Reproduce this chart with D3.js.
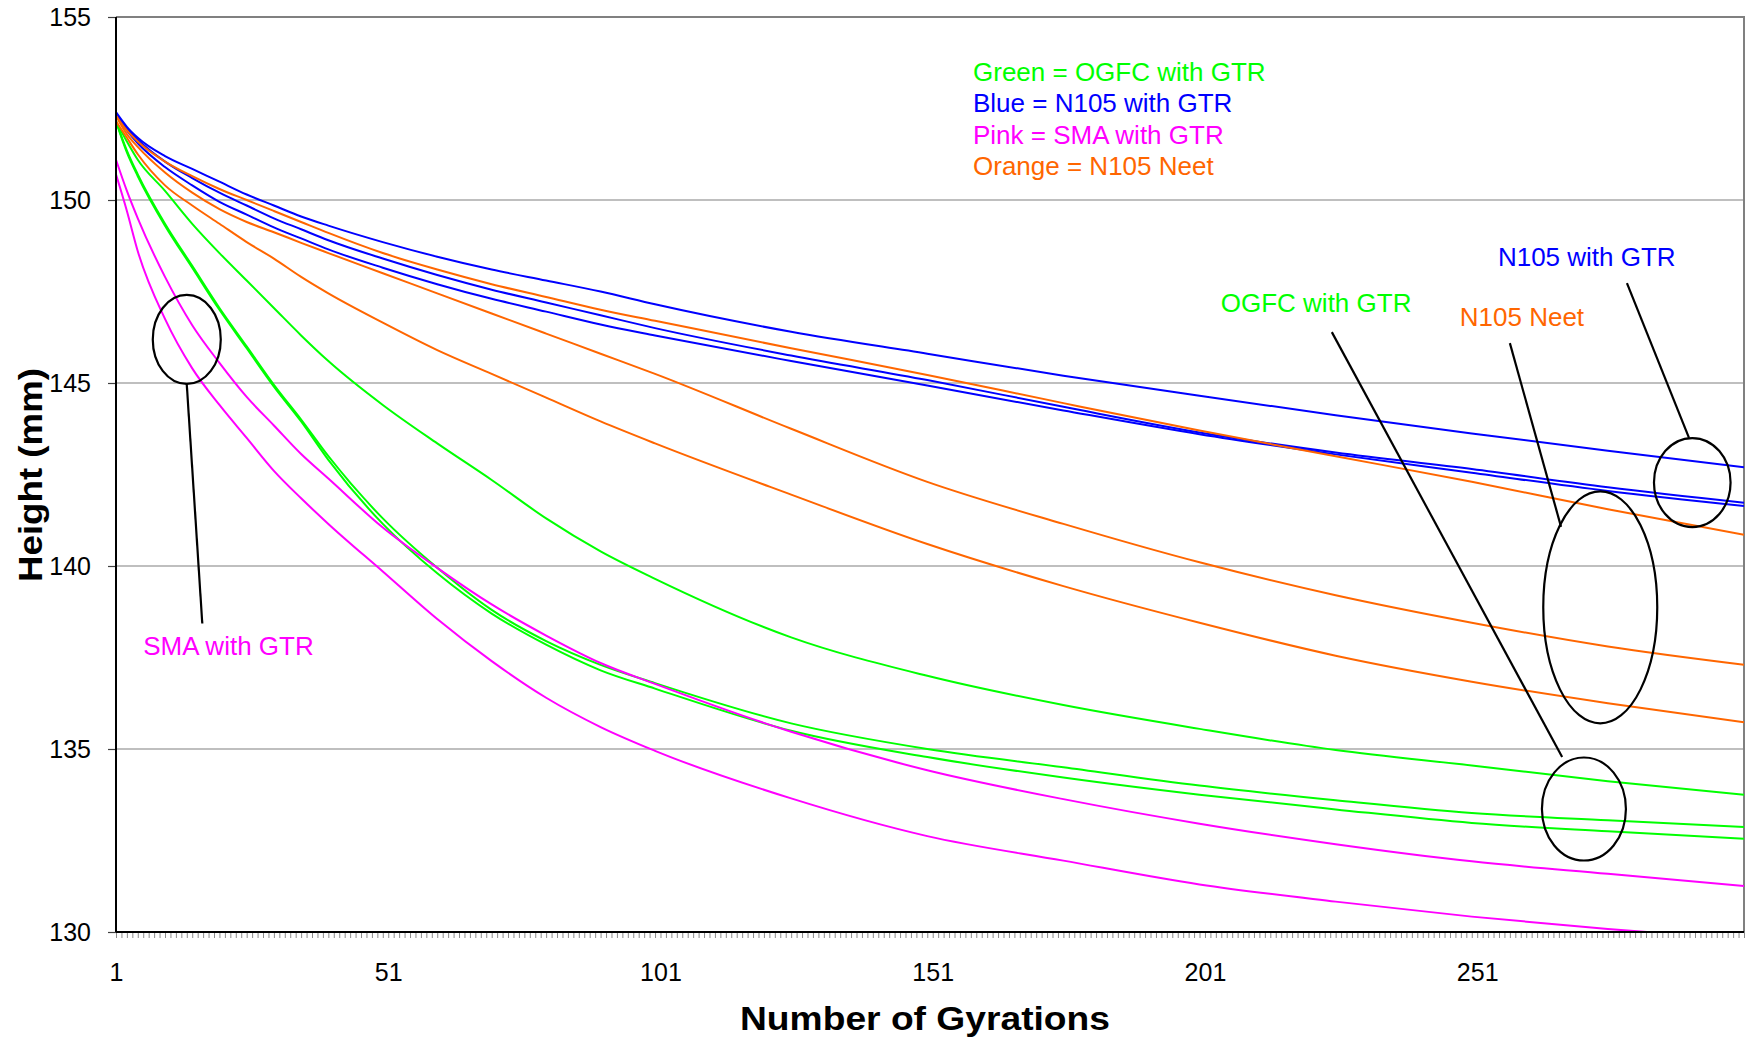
<!DOCTYPE html>
<html>
<head>
<meta charset="utf-8">
<script src="https://cdn.jsdelivr.net/npm/d3@7"></script>
<style>
  body { margin: 0; background: #fff; }
  svg { display: block; font-family: "Liberation Sans", Arial, sans-serif; }
</style>
</head>
<body>
<div class="chart"></div>
<script>
var gyrations = [1, 3, 5, 10, 15, 20, 25, 30, 35, 40, 50, 60, 70, 80, 90, 100, 125, 150, 175, 200, 225, 250, 275, 300];

// N105 with GTR (blue)
var n105GtrA = [152.4, 152.0, 151.7, 151.2, 150.85, 150.5, 150.15, 149.85, 149.55, 149.3, 148.85, 148.45, 148.1, 147.8, 147.5, 147.15, 146.4, 145.8, 145.2, 144.65, 144.12, 143.62, 143.15, 142.7];
var n105GtrB = [152.35, 151.95, 151.65, 151.05, 150.6, 150.2, 149.85, 149.5, 149.2, 148.9, 148.4, 147.95, 147.55, 147.2, 146.85, 146.5, 145.75, 145.08, 144.35, 143.65, 143.1, 142.65, 142.15, 141.73];
var n105GtrC = [152.35, 151.9, 151.55, 150.9, 150.4, 149.95, 149.6, 149.25, 148.95, 148.65, 148.15, 147.7, 147.3, 146.95, 146.6, 146.3, 145.6, 144.93, 144.25, 143.6, 143.05, 142.55, 142.05, 141.64];

// N105 Neet (orange)
var n105NeetA = [152.3, 151.9, 151.6, 151.05, 150.65, 150.3, 150.0, 149.7, 149.4, 149.1, 148.55, 148.1, 147.7, 147.35, 147.0, 146.7, 145.95, 145.22, 144.45, 143.7, 143.0, 142.3, 141.55, 140.85];
var n105NeetB = [152.3, 151.8, 151.45, 150.75, 150.2, 149.75, 149.4, 149.12, 148.83, 148.55, 148.0, 147.45, 146.9, 146.35, 145.8, 145.25, 143.75, 142.3, 141.15, 140.1, 139.2, 138.45, 137.8, 137.3];
var n105NeetC = [152.15, 151.7, 151.25, 150.4, 149.85, 149.35, 148.85, 148.4, 147.9, 147.45, 146.65, 145.9, 145.25, 144.6, 143.95, 143.35, 141.95, 140.6, 139.45, 138.45, 137.55, 136.84, 136.25, 135.73];

// OGFC with GTR (green)
var ogfcA = [152.15, 151.6, 151.1, 150.25, 149.35, 148.55, 147.8, 147.05, 146.3, 145.6, 144.4, 143.35, 142.35, 141.3, 140.4, 139.65, 138.05, 137.0, 136.2, 135.55, 134.97, 134.55, 134.12, 133.75];
var ogfcB = [152.15, 151.35, 150.7, 149.35, 148.2, 147.05, 146.0, 144.95, 144.0, 143.0, 141.3, 139.95, 138.8, 137.95, 137.3, 136.8, 135.7, 135.0, 134.5, 134.0, 133.6, 133.25, 133.05, 132.87];
var ogfcC = [152.15, 151.3, 150.65, 149.3, 148.15, 147.0, 145.95, 144.9, 143.95, 142.9, 141.15, 139.8, 138.7, 137.85, 137.15, 136.65, 135.5, 134.78, 134.22, 133.75, 133.35, 132.98, 132.75, 132.55];

// SMA with GTR (pink)
var smaA = [151.1, 150.25, 149.5, 147.9, 146.58, 145.55, 144.62, 143.84, 143.06, 142.39, 141.05, 139.95, 138.95, 138.1, 137.35, 136.78, 135.47, 134.42, 133.63, 132.96, 132.4, 131.93, 131.59, 131.26];
var smaB = [150.7, 149.7, 148.6, 146.75, 145.4, 144.4, 143.5, 142.6, 141.85, 141.15, 139.85, 138.55, 137.4, 136.4, 135.6, 134.95, 133.65, 132.62, 131.95, 131.3, 130.83, 130.42, 130.08, 129.8];

var yTicks = [130, 135, 140, 145, 150, 155];
var xLabelTicks = [1, 51, 101, 151, 201, 251];
var legendLines = ["Green = OGFC with GTR", "Blue = N105 with GTR", "Pink = SMA with GTR", "Orange = N105 Neet"];
var legendColors = ["#00ff00", "#0000ff", "#ff00ff", "#ff6600"];

var seriesList = [
    {values: ogfcA, color: "#00ff00"},
    {values: ogfcB, color: "#00ff00"},
    {values: ogfcC, color: "#00ff00"},
    {values: n105GtrA, color: "#0000ff"},
    {values: n105GtrB, color: "#0000ff"},
    {values: n105GtrC, color: "#0000ff"},
    {values: n105NeetA, color: "#ff6600"},
    {values: n105NeetB, color: "#ff6600"},
    {values: n105NeetC, color: "#ff6600"},
    {values: smaA, color: "#ff00ff"},
    {values: smaB, color: "#ff00ff"}
];

var svgWidth = 1750;
var svgHeight = 1043;
var margin = {top: 17, right: 6, bottom: 111, left: 116};
var width = svgWidth - margin.left - margin.right;
var height = svgHeight - margin.top - margin.bottom;

var svg = d3.select(".chart")
    .append("svg")
    .attr("width", svgWidth)
    .attr("height", svgHeight);

svg.append("rect").attr("width", svgWidth).attr("height", svgHeight).attr("fill", "#fff");

var chartGroup = svg.append("g")
    .attr("transform", `translate(${margin.left}, ${margin.top})`);

var x = d3.scaleLinear().domain([1, 300]).range([0, width]);
var y = d3.scaleLinear().domain([130, 155]).range([height, 0]);

// gridlines
chartGroup.append("g")
    .selectAll("line")
    .data(yTicks.filter(d => d > 130 && d < 155))
    .enter()
    .append("line")
    .attr("x1", 0).attr("x2", width)
    .attr("y1", d => y(d)).attr("y2", d => y(d))
    .attr("stroke", "#808080")
    .attr("stroke-width", 1.2);

// plot area border (top and right)
chartGroup.append("path")
    .attr("d", `M0,${y(155)}H${width}V${height}`)
    .attr("fill", "none")
    .attr("stroke", "#808080")
    .attr("stroke-width", 2);

// series
chartGroup.append("clipPath").attr("id", "plotClip")
    .append("rect").attr("x", 0).attr("y", 0).attr("width", width).attr("height", height);

var line = d3.line()
    .x(d => x(d.g))
    .y(d => y(d.v))
    .curve(d3.curveMonotoneX);

chartGroup.append("g")
    .attr("clip-path", "url(#plotClip)")
    .selectAll("path")
    .data(seriesList)
    .enter()
    .append("path")
    .attr("fill", "none")
    .attr("stroke", d => d.color)
    .attr("stroke-width", 2)
    .attr("d", d => line(d.values.map((v, i) => ({g: gyrations[i], v: v}))));

// x axis: a tick for every gyration, label every 50
var bottomAxis = d3.axisBottom(x)
    .tickValues(d3.range(1, 301))
    .tickSize(6)
    .tickPadding(25)
    .tickFormat(d => xLabelTicks.includes(d) ? d : "");

var gx = chartGroup.append("g")
    .attr("transform", `translate(0, ${height})`)
    .call(bottomAxis);
gx.select(".domain").remove();
gx.selectAll(".tick line").attr("stroke", "#8c8c8c").attr("stroke-width", 1);
gx.selectAll("text")
    .attr("font-family", "'Liberation Sans', Arial, sans-serif")
    .attr("font-size", 25)
    .attr("fill", "#000");

// y axis
var leftAxis = d3.axisLeft(y)
    .tickValues(yTicks)
    .tickSize(8)
    .tickPadding(17)
    .tickFormat(d3.format("d"));

var gy = chartGroup.append("g").call(leftAxis);
gy.select(".domain").remove();
gy.selectAll(".tick line").attr("stroke", "#404040").attr("stroke-width", 1.2);
gy.selectAll("text")
    .attr("font-family", "'Liberation Sans', Arial, sans-serif")
    .attr("font-size", 25)
    .attr("fill", "#000");

// axis lines
chartGroup.append("line")
    .attr("x1", 0).attr("x2", 0).attr("y1", 0).attr("y2", height)
    .attr("stroke", "#000").attr("stroke-width", 2);
chartGroup.append("line")
    .attr("x1", 0).attr("x2", width).attr("y1", height).attr("y2", height)
    .attr("stroke", "#000").attr("stroke-width", 2);

// axis titles
chartGroup.append("text")
    .attr("transform", `translate(${30 - margin.left}, ${475 - margin.top}) rotate(-90)`)
    .attr("text-anchor", "middle")
    .attr("dominant-baseline", "central")
    .attr("font-size", 34)
    .attr("font-weight", "bold")
    .attr("textLength", 214)
    .attr("lengthAdjust", "spacingAndGlyphs")
    .text("Height (mm)");

chartGroup.append("text")
    .attr("x", 925 - margin.left)
    .attr("y", 1030 - margin.top)
    .attr("text-anchor", "middle")
    .attr("font-size", 34)
    .attr("font-weight", "bold")
    .attr("textLength", 370)
    .attr("lengthAdjust", "spacingAndGlyphs")
    .text("Number of Gyrations");

// colour legend
chartGroup.append("g")
    .selectAll("text")
    .data(legendLines)
    .enter()
    .append("text")
    .attr("x", 973 - margin.left)
    .attr("y", (d, i) => 81 - margin.top + i * 31.3)
    .attr("font-size", 26)
    .attr("fill", (d, i) => legendColors[i])
    .text(d => d);

// callouts: ellipse centre and label/pointer positions in data units
var callouts = [
    {label: "SMA with GTR", color: "#ff00ff", tx: 6.0, ty: 137.57,
     cx: 14.0, cy: 146.19, rx: 34, ry: 44.5, from: [13.98, 145.0], to: [16.85, 138.43]},
    {label: "N105 with GTR", color: "#0000ff", tx: 254.8, ty: 148.2,
     cx: 290.5, cy: 142.28, rx: 38.3, ry: 44.5, from: [289.9, 143.5], to: [278.5, 147.73]},
    {label: "N105 Neet", color: "#ff6600", tx: 247.8, ty: 146.57,
     cx: 273.6, cy: 138.87, rx: 57, ry: 116, from: [266.4, 141.07], to: [257.0, 146.09]},
    {label: "OGFC with GTR", color: "#00ff00", tx: 203.9, ty: 146.93,
     cx: 270.6, cy: 133.36, rx: 42, ry: 51.5, from: [266.6, 134.78], to: [224.3, 146.39]}
];

var callGroup = chartGroup.append("g");
callouts.forEach(function (c) {
    callGroup.append("ellipse")
        .attr("cx", x(c.cx)).attr("cy", y(c.cy))
        .attr("rx", c.rx).attr("ry", c.ry)
        .attr("fill", "none").attr("stroke", "#000").attr("stroke-width", 2.2);
    callGroup.append("line")
        .attr("x1", x(c.from[0])).attr("y1", y(c.from[1]))
        .attr("x2", x(c.to[0])).attr("y2", y(c.to[1]))
        .attr("stroke", "#000").attr("stroke-width", 2.2);
    callGroup.append("text")
        .attr("x", x(c.tx)).attr("y", y(c.ty))
        .attr("font-size", 26)
        .attr("fill", c.color)
        .text(c.label);
});
</script>
</body>
</html>
